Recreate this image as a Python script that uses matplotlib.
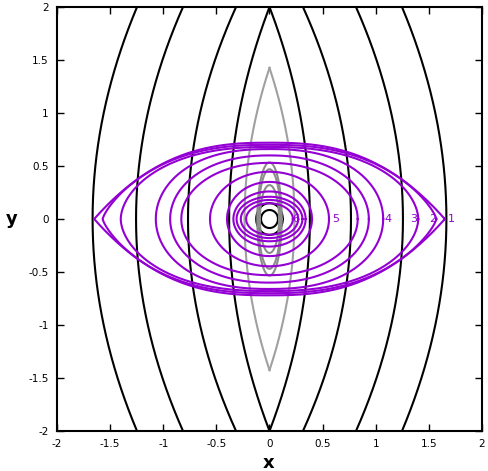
import numpy as np
import matplotlib
matplotlib.use("Agg")
import matplotlib.pyplot as plt

# black curves: x at y=+-2 (edge) and at y=0 (centre), left half (mirrored)
black_edge = [-1.247, -0.814, -0.315, 0.0]
black_mid = [-1.665, -1.256, -0.767, -0.38]

# small black ovals round the origin: half-width, half-height
black_oval_a = [0.125, 0.08]
black_oval_b = [0.15, 0.085]

# grey lens (tip height, half-width at y=0)
grey_tip = 1.426
grey_halfwidth = 0.235
# grey ovals
grey_oval_a = [0.115, 0.105, 0.09]
grey_oval_b = [0.534, 0.47, 0.32]

# purple closed curves: half-width, half-height, shape exponents
purple_a = [1.65, 1.57, 1.40, 1.07, 0.935, 0.83, 0.56, 0.40, 0.34, 0.31, 0.27, 0.22]
purple_b = [0.72, 0.70, 0.68, 0.66, 0.60, 0.53, 0.446, 0.35, 0.26, 0.21, 0.18, 0.148]
purple_p = [2.6, 2.5, 2.4, 2.4, 2.2, 2.1, 2.0, 2.0, 2.0, 2.0, 2.0, 2.0]
purple_q = [1.0, 1.3, 1.8, 2.0, 2.0, 2.0, 2.0, 2.0, 2.0, 2.0, 2.0, 2.0]

# curve labels
label_text = ["1", "2", "3", "4", "5", "6"]
label_x = [1.71, 1.54, 1.355, 1.12, 0.62, 0.25]

purple = "#9400d3"

fig = plt.figure(figsize=(4.88, 4.71), dpi=100)
ax = fig.add_axes([0.1168, 0.0849, 0.8709, 0.9002])

t = np.linspace(0, 2 * np.pi, 721)
yy = np.linspace(-2, 2, 401)

for x0, xm in zip(black_edge, black_mid):
    xs = x0 + (xm - x0) * (1 - yy**2 / 4)
    ax.plot(xs, yy, color="black", lw=1.5)
    ax.plot(-xs, yy, color="black", lw=1.5)

for a, b in zip(black_oval_a, black_oval_b):
    ax.plot(a * np.cos(t), b * np.sin(t), color="black", lw=1.5)

yg = np.linspace(-grey_tip, grey_tip, 301)
xg = grey_halfwidth * (1 - yg**2 / grey_tip**2)
ax.plot(xg, yg, color="#a0a0a0", lw=1.5)
ax.plot(-xg, yg, color="#a0a0a0", lw=1.5)
for a, b in zip(grey_oval_a, grey_oval_b):
    ax.plot(a * np.cos(t), b * np.sin(t), color="#8c8c8c", lw=1.5)

for a, b, p, q in zip(purple_a, purple_b, purple_p, purple_q):
    c, s = np.cos(t), np.sin(t)
    xs = a * np.sign(c) * np.abs(c) ** (2 / p)
    ys = b * np.sign(s) * np.abs(s) ** (2 / q)
    ax.plot(xs, ys, color=purple, lw=1.5)

for txt, lx in zip(label_text, label_x):
    ax.text(lx, 0, txt, color=purple, fontsize=8, ha="center", va="center")

ax.set_xlim(-2, 2)
ax.set_ylim(-2, 2)
ax.set_xticks(np.arange(-2, 2.01, 0.5))
ax.set_yticks(np.arange(-2, 2.01, 0.5))
ax.set_xticklabels(["-2", "-1.5", "-1", "-0.5", "0", "0.5", "1", "1.5", "2"])
ax.set_yticklabels(["-2", "-1.5", "-1", "-0.5", "0", "0.5", "1", "1.5", "2"])
ax.tick_params(direction="in", length=5, width=1, top=True, right=True,
               labelsize=7.5, pad=6)
for sp in ax.spines.values():
    sp.set_linewidth(1.5)

fig.text(269 / 488, 1 - 463 / 471, "x", fontsize=13, fontweight="bold",
         ha="center", va="center")
fig.text(12 / 488, 1 - 219 / 471, "y", fontsize=13, fontweight="bold",
         ha="center", va="center")

fig.savefig("out.png", dpi=100)
